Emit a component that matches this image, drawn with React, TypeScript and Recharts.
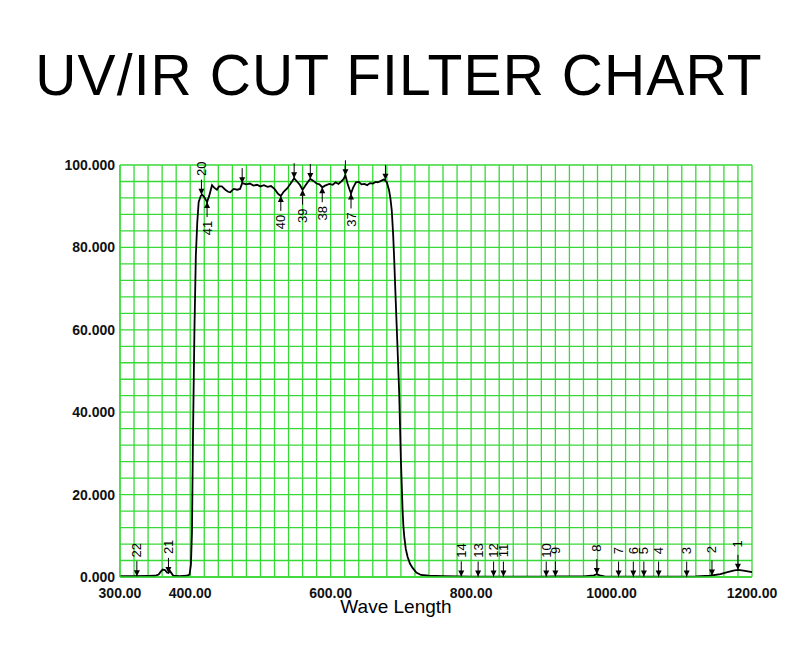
import {
  ComposedChart,
  CartesianGrid,
  XAxis,
  YAxis,
  Line,
  Scatter,
} from 'recharts';

// transmission curve (wavelength nm, transmittance %)
const wavelengths = [
  300, 320, 340, 350, 355, 358, 361, 364, 367, 369, 371, 373, 376, 385, 395, 399, 401, 402.5, 404, 406,
  408, 410, 412, 415, 417, 420, 424, 427, 431, 434, 438, 441, 445, 450, 454, 457, 462, 467, 471, 474,
  480, 485, 490, 495, 500, 505, 510, 515, 520, 525, 529, 533, 538, 543, 548, 552, 556, 560, 564, 568,
  571, 575, 580, 584, 588, 592, 598, 603, 607, 611, 615, 618, 621, 624, 627, 629, 632, 636, 640, 644,
  648, 652, 656, 660, 664, 667, 671, 676, 680, 683, 685, 687, 689, 690.5, 692, 694, 696, 697.6, 699, 700,
  701.5, 702.4, 703.5, 704.8, 707, 709.5, 713, 716.7, 722, 728.6, 740, 760, 780, 800, 850, 900, 920, 960,
  975, 979, 983, 990, 1040, 1080, 1120, 1140, 1155, 1165, 1175, 1181, 1190, 1200,
];
const transmittance = [
  0.2, 0.2, 0.25, 0.3, 0.6, 1.3, 1.8, 1.7, 1.1, 1.0, 1.5, 1.0, 0.3, 0.2, 0.3, 0.6, 3, 11, 35, 60,
  78, 86, 91, 92.5, 92.8, 92.2, 91, 92.5, 95.1, 94.5, 94, 94.8, 94.8, 94, 93.5, 93.4, 94.2, 94, 94.2, 95.6,
  95.3, 95.5, 95, 95.2, 94.8, 95.1, 94.7, 94.9, 94.2, 93, 92.5, 93.5, 94.3, 95.5, 96.8, 96, 95.2, 94, 95, 96,
  96.6, 96.2, 95.5, 95.3, 94.6, 95, 95.4, 95.2, 95.8, 95.4, 96, 96.5, 97.5, 95.5, 94, 93.1, 94.5, 95.8, 95.9, 95.3,
  95.4, 95.1, 95.6, 95.5, 95.9, 95.8, 96.1, 96.5, 95.8, 94, 92, 89, 83, 77, 70, 61, 52, 44.6, 35, 28.4,
  21, 16.3, 12.5, 9.8, 6.8, 4.9, 3.2, 2.2, 1.1, 0.5, 0.3, 0.2, 0.15, 0.1, 0.1, 0.1, 0.15, 0.15,
  0.4, 0.7, 0.4, 0.15, 0.1, 0.1, 0.15, 0.3, 0.7, 1.2, 1.6, 1.75, 1.5, 1.2,
];

// peak / valley markers: position, value at tip, number, arrow direction
const markerWl = [324, 369, 786, 810, 832, 846, 907, 920, 979, 1010, 1031, 1046, 1067, 1107, 1143, 1180,
  416, 474, 548, 571, 621, 678, 424, 529, 560, 588, 629];
const markerT = [0.2, 1.0, 0.15, 0.1, 0.1, 0.1, 0.1, 0.15, 0.7, 0.1, 0.1, 0.1, 0.1, 0.1, 0.35, 1.75,
  92.8, 95.6, 96.8, 96.6, 97.5, 96.4, 91, 92.5, 94, 94.6, 93.1];
const markerNo = ['22', '21', '14', '13', '12', '11', '10', '9', '8', '7', '6', '5', '4', '3', '2', '1',
  '20', '', '', '', '', '', '41', '40', '39', '38', '37'];
const markerDir = ['down', 'down', 'down', 'down', 'down', 'down', 'down', 'down', 'down', 'down', 'down',
  'down', 'down', 'down', 'down', 'down', 'down', 'down', 'down', 'down', 'down', 'down',
  'up', 'up', 'up', 'up', 'up'];

const xLabels = [300, 400, 600, 800, 1000, 1200];
const xTicks = Array.from({ length: 46 }, (_, i) => 300 + i * 20);
const yTicks = Array.from({ length: 26 }, (_, i) => i * 4);

const curve = wavelengths.map((wl, i) => ({ wl, t: transmittance[i] }));
const markers = markerWl.map((wl, i) => ({ wl, t: markerT[i], no: markerNo[i], dir: markerDir[i] }));

const GREEN = '#36d936';
const FONT = '"Liberation Sans", Arial, sans-serif';

function Marker(props: any) {
  const { cx, cy, payload } = props;
  if (cx == null || cy == null) return null;
  const down = payload.dir === 'down';
  const s = down ? -1 : 1;
  const tail = cy + s * 15;
  const labelY = cy + s * 26;
  return (
    <g>
      <line x1={cx} y1={tail} x2={cx} y2={cy} stroke="#000" strokeWidth={1} />
      <path
        d={`M${cx - 3},${cy + s * 6} L${cx},${cy} L${cx + 3},${cy + s * 6} Z`}
        fill="#000"
      />
      {payload.no && (
        <text
          x={cx}
          y={labelY}
          transform={`rotate(-90 ${cx} ${labelY})`}
          textAnchor="middle"
          dominantBaseline="central"
          fontSize={13}
          fontFamily={FONT}
          fill="#000"
        >
          {payload.no}
        </text>
      )}
    </g>
  );
}

export default function App() {
  return (
    <div style={{ position: 'absolute', left: 0, top: 0, width: 800, height: 656, background: '#fff' }}>
      <div
        style={{
          position: 'absolute',
          left: 0,
          top: 47,
          width: 798,
          textAlign: 'center',
          fontFamily: FONT,
          fontSize: 57,
          letterSpacing: '1.1px',
          lineHeight: '56px',
          color: '#000',
        }}
      >
        UV/IR CUT FILTER CHART
      </div>
      <ComposedChart
        width={800}
        height={656}
        margin={{ top: 165, right: 48, bottom: 49, left: 40 }}
      >
        <CartesianGrid stroke={GREEN} strokeWidth={1.3} />
        <XAxis
          type="number"
          dataKey="wl"
          domain={[300, 1200]}
          ticks={xTicks}
          interval={0}
          height={30}
          tickSize={0}
          tickMargin={11}
          tickLine={false}
          axisLine={{ stroke: GREEN, strokeWidth: 1.3 }}
          tickFormatter={(v: number) => (xLabels.includes(v) ? v.toFixed(2) : '')}
          tick={{ fill: '#111', fontSize: 14, fontWeight: 'bold', fontFamily: FONT }}
        />
        <YAxis
          type="number"
          dataKey="t"
          domain={[0, 100]}
          ticks={yTicks}
          interval={0}
          width={80}
          tickSize={0}
          tickMargin={5}
          tickLine={false}
          axisLine={{ stroke: GREEN, strokeWidth: 1.3 }}
          tickFormatter={(v: number) => (v % 20 === 0 ? v.toFixed(3) : '')}
          tick={{ fill: '#111', fontSize: 14, fontWeight: 'bold', fontFamily: FONT }}
        />
        <Line
          data={curve}
          dataKey="t"
          type="linear"
          stroke="#000"
          strokeWidth={1.8}
          dot={false}
          isAnimationActive={false}
        />
        <Scatter
          data={markers}
          dataKey="t"
          shape={(p: any) => <Marker {...p} />}
          isAnimationActive={false}
        />
      </ComposedChart>
      <div
        style={{
          position: 'absolute',
          left: 296,
          top: 597,
          width: 200,
          textAlign: 'center',
          fontFamily: FONT,
          fontSize: 19,
          lineHeight: '19px',
          color: '#000',
        }}
      >
        Wave Length
      </div>
    </div>
  );
}
